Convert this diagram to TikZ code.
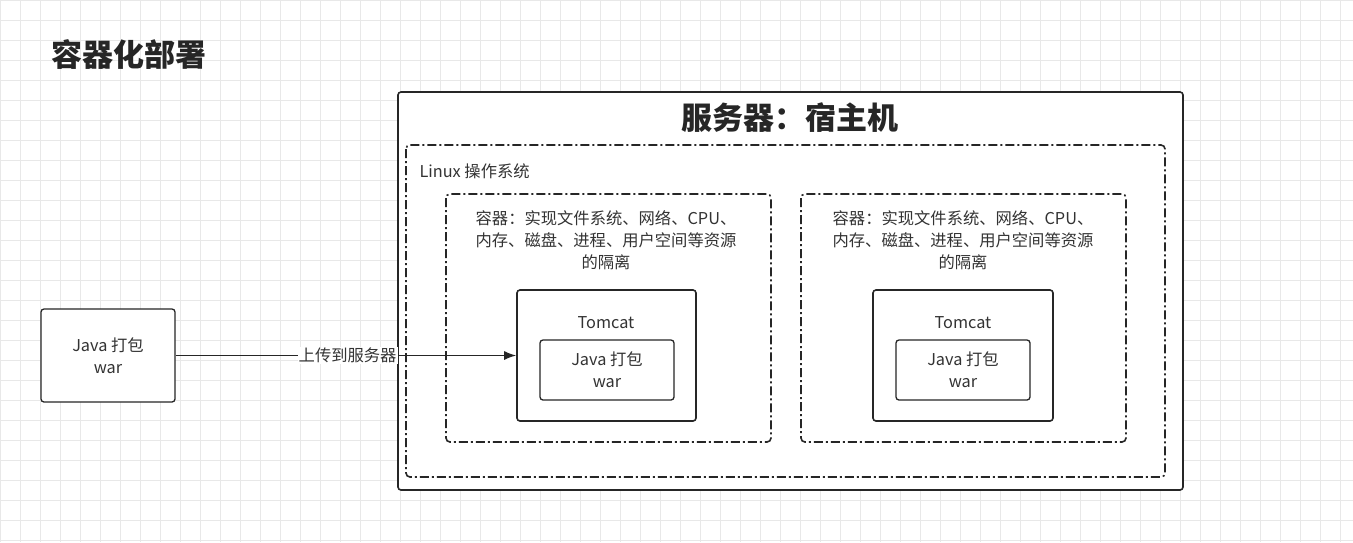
\documentclass[tikz,border=0pt]{standalone}
\usepackage{fontspec}
\setmainfont{Noto Sans CJK SC}
\usetikzlibrary{arrows.meta}
\begin{document}
\begin{tikzpicture}[x=1pt,y=-1pt,
  box/.style={draw=black!85,line width=1.6pt,rounded corners=3pt,fill=white},
  dd/.style={draw=black!85,line width=1.6pt,rounded corners=4pt,dash pattern=on 9pt off 3pt on 2pt off 3pt},
  txt/.style={font=\fontsize{16.3}{22}\selectfont,text=black!80,align=center},
  thin/.style={draw=black!85,line width=1.3pt,rounded corners=3pt,fill=white}]
\useasboundingbox (0,0) rectangle (1353,542);
\fill[white] (0,0) rectangle (1353,542);
\foreach \i in {0,20,...,1340} \draw[black!9,line width=0.5pt] (\i,0) -- (\i,542);
\foreach \j in {0,20,...,540} \draw[black!9,line width=0.5pt] (0,\j) -- (1353,\j);
\node[anchor=west,font=\fontsize{31}{34}\selectfont\bfseries,text=black!85] (t) at (48,55) {容器化部署};
\draw[box] (398,92) rectangle (1183,490);
\node[font=\fontsize{31}{34}\selectfont\bfseries,text=black!85] (st) at (790,118) {服务器：宿主机};
\draw[dd] (406,145) rectangle (1165,477);
\node[txt,anchor=west] (lx) at (416,171) {Linux 操作系统};
\draw[dd] (446,194) rectangle (771,442);
\draw[dd] (801,194) rectangle (1126,442);
\node[txt] (c1) at (606,240) {容器：实现文件系统、网络、CPU、\\内存、磁盘、进程、用户空间等资源\\的隔离};
\node[txt] (c2) at (963,240) {容器：实现文件系统、网络、CPU、\\内存、磁盘、进程、用户空间等资源\\的隔离};
\node[box,minimum width=179,minimum height=131] (tc1) at (606.5,355.5) {};
\node[txt] at (606,323) {Tomcat};
\node[thin,minimum width=134,minimum height=60,txt] (j1) at (607,370) {Java 打包\\war};
\node[box,minimum width=180,minimum height=131] (tc2) at (963,355.5) {};
\node[txt] at (963,323) {Tomcat};
\node[thin,minimum width=134,minimum height=60,txt] (j2) at (963,370) {Java 打包\\war};
\node[thin,minimum width=134,minimum height=93,txt] (src) at (108,355.5) {Java 打包\\war};
\draw[black!85,line width=1.4pt,-{Latex[length=12pt,width=9pt]}] (src.east) -- (tc1.west)
  node[pos=0.505,fill=white,inner sep=1pt,txt] {上传到服务器};
\end{tikzpicture}
\end{document}
